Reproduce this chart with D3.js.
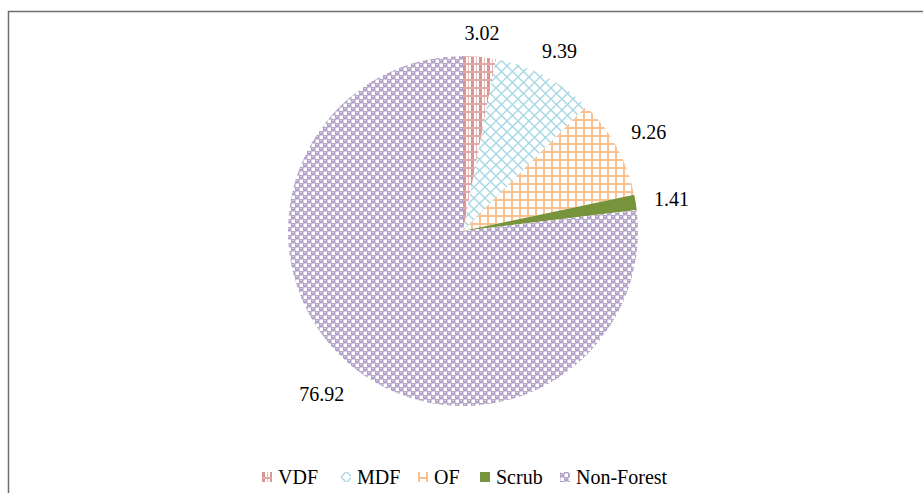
<!DOCTYPE html>
<html>
<head>
<meta charset="utf-8">
<script src="https://cdn.jsdelivr.net/npm/d3@7"></script>
<style>
body { margin: 0; background: #fff; }
svg { display: block; }
</style>
</head>
<body>
<div id="corpo"></div>
<script>
// dados
var categories = ["VDF", "MDF", "OF", "Scrub", "Non-Forest"];
var values = [3.02, 9.39, 9.26, 1.41, 76.92];
var patternIds = ["pVDF", "pMDF", "pOF", null, "pNF"];

var width = 923, height = 493;
var cx = 463, cy = 231, radius = 175;
var fontFamily = "Liberation Serif, Times New Roman, serif";

var svg = d3.select("#corpo").append("svg")
	.attr("width", width)
	.attr("height", height);

// moldura
svg.append("path")
	.attr("d", "M8.5," + height + "V11.5H" + width)
	.attr("fill", "none")
	.attr("stroke", "#6e6e6e")
	.attr("stroke-width", 1.5);

/*=== padrões ===*/
var defs = svg.append("defs");

// VDF - xadrez vermelho
var p = defs.append("pattern").attr("id", "pVDF")
	.attr("patternUnits", "userSpaceOnUse").attr("width", 8).attr("height", 8);
p.append("rect").attr("width", 8).attr("height", 8).attr("fill", "#fff");
p.append("rect").attr("x", 0).attr("width", 3).attr("height", 8).attr("fill", "#d99694");
p.append("rect").attr("x", 5).attr("width", 1).attr("height", 8).attr("fill", "#e6b9b8");
p.append("rect").attr("y", 0).attr("width", 8).attr("height", 2).attr("fill", "#e0a8a6");

// MDF - diagonal cruzada azul
p = defs.append("pattern").attr("id", "pMDF")
	.attr("patternUnits", "userSpaceOnUse").attr("width", 11).attr("height", 11);
p.append("rect").attr("width", 11).attr("height", 11).attr("fill", "#fff");
p.append("path").attr("d", "M0,0L11,11M11,0L0,11")
	.attr("stroke", "#a5d8e4").attr("stroke-width", 1.4);

// OF - grade laranja
p = defs.append("pattern").attr("id", "pOF")
	.attr("patternUnits", "userSpaceOnUse").attr("width", 8).attr("height", 8);
p.append("rect").attr("width", 8).attr("height", 8).attr("fill", "#fff");
p.append("path").attr("d", "M1,0V8M0,1H8")
	.attr("stroke", "#fac090").attr("stroke-width", 2);

// Non-Forest - esferas roxas (xadrez com quadrados brancos)
p = defs.append("pattern").attr("id", "pNF")
	.attr("patternUnits", "userSpaceOnUse").attr("width", 8).attr("height", 8);
p.append("rect").attr("width", 8).attr("height", 8).attr("fill", "#b3a2c7");
p.append("rect").attr("x", 0.5).attr("y", 0.5).attr("width", 3.5).attr("height", 3.5).attr("fill", "#fff");
p.append("rect").attr("x", 4.5).attr("y", 4.5).attr("width", 3.5).attr("height", 3.5).attr("fill", "#fff");
p.append("rect").attr("x", 5).attr("y", 1).attr("width", 2).attr("height", 1).attr("fill", "#d6cce3");
p.append("rect").attr("x", 1).attr("y", 5).attr("width", 2).attr("height", 1).attr("fill", "#d6cce3");

var solid = { "Scrub": "#77933c" };

function fillOf(i) {
	return patternIds[i] ? "url(#" + patternIds[i] + ")" : solid[categories[i]];
}

/*=== pizza ===*/
var pie = d3.pie().sort(null).value(function(d) { return d; });
var arcs = pie(values);
var arc = d3.arc().innerRadius(0).outerRadius(radius);

var g = svg.append("g").attr("transform", "translate(" + cx + "," + cy + ")");

g.selectAll("path.slice")
	.data(arcs)
	.enter().append("path")
	.attr("class", "slice")
	.attr("d", arc)
	.attr("fill", function(d, i) { return fillOf(i); });

// rótulos fora da borda: a caixa do texto fica a uma distância fixa da borda
var labelGap = 18;
var lbl = g.selectAll("text.lbl")
	.data(arcs)
	.enter().append("text")
	.attr("class", "lbl")
	.attr("text-anchor", "middle")
	.attr("dy", "0.5em")
	.attr("font-family", fontFamily)
	.attr("font-size", 20)
	.attr("fill", "#000")
	.text(function(d) { return d.data.toFixed(2); });

lbl.each(function(d) {
	var bb = this.getBBox();
	var a = (d.startAngle + d.endAngle) / 2;
	var s = Math.sin(a), c = Math.cos(a);
	var rr = radius + labelGap + Math.abs(s) * bb.width / 2 + Math.abs(c) * 7;
	d3.select(this).attr("transform", "translate(" + (s * rr) + "," + (-c * rr) + ")");
});

/*=== legenda ===*/
var legX = [262, 341, 418, 480, 560];
var leg = svg.append("g").attr("transform", "translate(0,477)");
var items = leg.selectAll("g")
	.data(categories)
	.enter().append("g")
	.attr("transform", function(d, i) { return "translate(" + legX[i] + ",0)"; });

items.append("rect")
	.attr("x", 0).attr("y", -5)
	.attr("width", 10).attr("height", 10)
	.attr("fill", function(d, i) { return fillOf(i); });

items.append("text")
	.attr("x", 16)
	.attr("dy", "0.35em")
	.attr("font-family", fontFamily)
	.attr("font-size", 20)
	.attr("fill", "#000")
	.text(function(d) { return d; });
</script>
</body>
</html>
